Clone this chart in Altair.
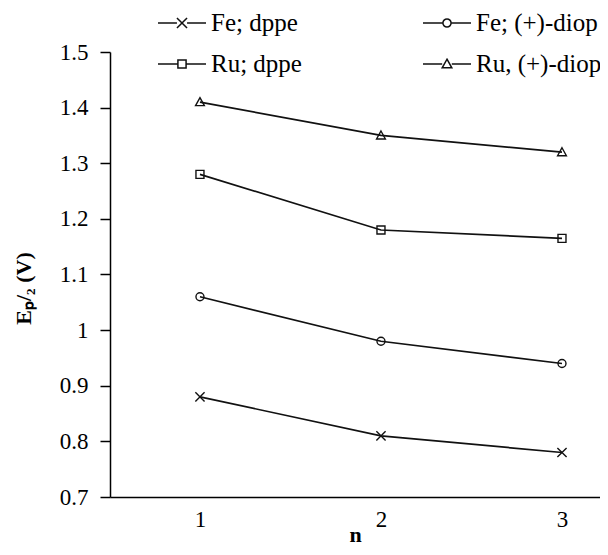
import altair as alt
import pandas as pd

# ---- data ----
n_values = [1, 2, 3]
series_names = ["Fe; dppe", "Fe; (+)-diop", "Ru; dppe", "Ru, (+)-diop"]
fe_dppe = [0.88, 0.81, 0.78]
fe_diop = [1.06, 0.98, 0.94]
ru_dppe = [1.28, 1.18, 1.165]
ru_diop = [1.41, 1.35, 1.32]
y_ticks = [0.7, 0.8, 0.9, 1.0, 1.1, 1.2, 1.3, 1.4, 1.5]

rows = []
for name, vals in zip(series_names, [fe_dppe, fe_diop, ru_dppe, ru_diop]):
    for n, v in zip(n_values, vals):
        rows.append({"n": n, "E": v, "series": name})
df = pd.DataFrame(rows)

FONT = "Liberation Serif"

# marker shapes (plot) and legend glyphs (line + marker)
plot_shapes = [
    "M-1.15,-1.15L1.15,1.15M-1.15,1.15L1.15,-1.15",
    "circle",
    "square",
    "M0,-1.1L1.1,0.9L-1.1,0.9Z",
]
legend_shapes = [
    "M-1,0L-0.21,0M0.21,0L1,0M-0.21,-0.21L0.21,0.21M-0.21,0.21L0.21,-0.21",
    "M-1,0L-0.17,0M0.17,0L1,0M0.17,0A0.17,0.17 0 1,1 -0.17,0A0.17,0.17 0 1,1 0.17,0",
    "M-1,0L-0.17,0M0.17,0L1,0M-0.17,-0.17L0.17,-0.17L0.17,0.17L-0.17,0.17Z",
    "M-1,0L-0.2,0M0.2,0L1,0M0,-0.2L0.2,0.16L-0.2,0.16Z",
]

x_enc = alt.X(
    "n:Q",
    scale=alt.Scale(domain=[0.503, 3.21], nice=False, zero=False),
    axis=alt.Axis(
        title="n",
        values=n_values,
        format="d",
        ticks=False,
        tickSize=0,
        grid=False,
        labelPadding=11,
        titlePadding=-7,
        titleFontWeight="bold",
    ),
)
y_enc = alt.Y(
    "E:Q",
    scale=alt.Scale(domain=[0.7, 1.5], nice=False, zero=False),
    axis=alt.Axis(
        title="Eₚ/₂ (V)",
        values=y_ticks,
        format="~g",
        grid=False,
        tickSize=10,
        labelPadding=12,
        titleX=-87,
        titleY=236,
        titleBaseline="middle",
        titleFontWeight="bold",
    ),
)

lines = alt.Chart(df).mark_line(color="#111111", strokeWidth=1.7).encode(
    x=x_enc, y=y_enc, detail="series:N"
)

points = alt.Chart(df).mark_point(
    filled=False, color="#111111", strokeWidth=1.4, size=64, opacity=1
).encode(
    x="n:Q",
    y="E:Q",
    shape=alt.Shape(
        "series:N",
        scale=alt.Scale(domain=series_names, range=plot_shapes),
        legend=None,
    ),
)

legend_layer = alt.Chart(df).mark_point(
    filled=False, color="#111111", strokeWidth=1.5, opacity=0
).encode(
    x="n:Q",
    y="E:Q",
    shape=alt.Shape(
        "series:N",
        scale=alt.Scale(domain=series_names, range=legend_shapes),
        legend=alt.Legend(
            title=None,
            orient="none",
            direction="horizontal",
            legendX=47,
            legendY=-42,
            columns=2,
            symbolSize=2304,
            symbolStrokeWidth=1.5,
            symbolStrokeColor="#111111",
            symbolOpacity=1,
            clipHeight=26,
            rowPadding=15,
            columnPadding=120,
            labelOffset=4,
            labelFont=FONT,
            labelFontSize=25,
            labelColor="black",
            labelLimit=300,
            padding=0,
        ),
    ),
)

chart = (
    alt.layer(lines, points, legend_layer)
    .resolve_scale(shape="independent")
    .properties(
        width=490,
        height=445,
        autosize=alt.AutoSizeParams(type="none"),
        padding={"left": 102, "top": 44, "right": 0, "bottom": 50},
    )
    .configure_view(stroke=None)
    .configure_axis(
        labelFont=FONT,
        labelFontSize=23,
        labelColor="black",
        titleFont=FONT,
        titleFontSize=22,
        titleColor="black",
        domainColor="black",
        domainWidth=1.5,
        tickColor="black",
        tickWidth=1.5,
    )
)

chart.save("out.html", embed_options={"renderer": "svg", "actions": False})
